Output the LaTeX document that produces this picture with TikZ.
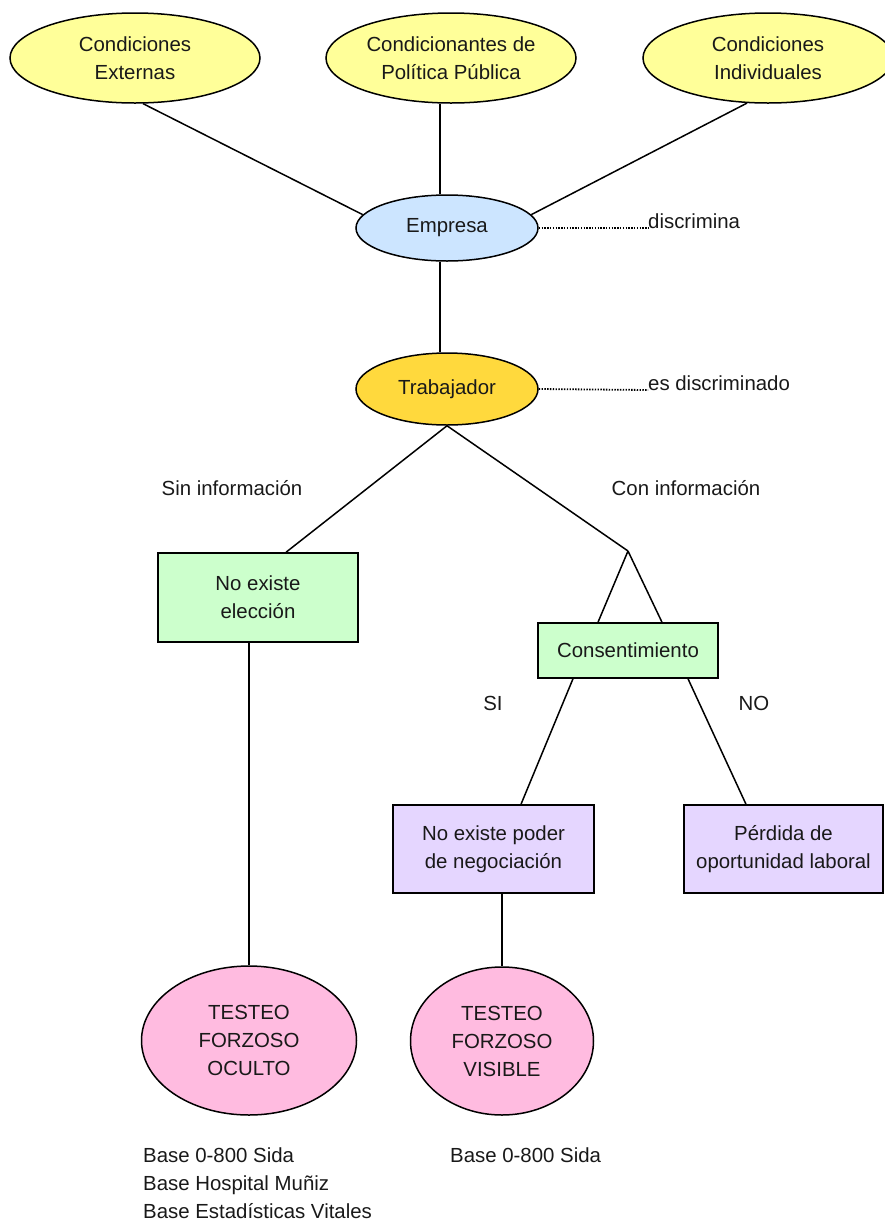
\documentclass[tikz,border=0pt]{standalone}
\usepackage{fontspec}
\setmainfont{Liberation Sans}
\usetikzlibrary{shapes.geometric}
\definecolor{ylw}{RGB}{255,255,153}
\definecolor{bluefill}{RGB}{204,229,255}
\definecolor{goldfill}{RGB}{255,217,61}
\definecolor{greenfill}{RGB}{204,255,204}
\definecolor{purplefill}{RGB}{229,214,255}
\definecolor{pinkfill}{RGB}{255,187,224}
\begin{document}
\begin{tikzpicture}[x=1pt,y=-1pt,
  every node/.style={font=\fontsize{20.4}{28}\selectfont, inner sep=0pt, text=black!90},
  ell/.style={ellipse, draw, line width=1.5pt, align=center},
  topell/.style={ell, fill=ylw, minimum width=250pt, minimum height=90pt},
  boxnode/.style={rectangle, draw, line width=1.5pt, align=center},
  conn/.style={line width=1.5pt},
  dotline/.style={line width=1.8pt, dash pattern=on 1.4pt off 1.4pt},
  lbl/.style={}
]
\useasboundingbox (0,0) rectangle (885,1224);

% top ellipses
\node[topell] (L) at (135,58) {Condiciones\\Externas};
\node[topell] (M) at (451,58) {Condicionantes de\\Política Pública};
\node[topell] (R) at (768,58) {Condiciones\\Individuales};

% middle ellipses
\node[ell, fill=bluefill, minimum width=182pt, minimum height=66pt] (E) at (447,228) {Empresa};
\node[ell, fill=goldfill, minimum width=182pt, minimum height=72pt] (T) at (447,389) {Trabajador};

\node[lbl, anchor=base west] (d1) at (648,228) {discrimina};
\node[lbl, anchor=base west] (d2) at (648,390) {es discriminado};

% branch labels
\node[lbl] (sin) at (232,488) {Sin información};
\node[lbl] (con) at (686,488) {Con información};
\node[lbl] (si) at (493,703) {SI};
\node[lbl] (no) at (754,703) {NO};

% boxes
\node[boxnode, fill=greenfill, minimum width=200pt, minimum height=89pt] (NE) at (258,597.5) {No existe\\elección};
\coordinate (J) at (628,551);
\node[boxnode, fill=greenfill, minimum width=180pt, minimum height=55pt] (C) at (628,650.5) {Consentimiento};
\node[boxnode, fill=purplefill, minimum width=201pt, minimum height=88pt] (NP) at (493.5,849) {No existe poder\\de negociación};
\node[boxnode, fill=purplefill, minimum width=199pt, minimum height=88pt] (PO) at (783.5,849) {Pérdida de\\oportunidad laboral};

% bottom ellipses
\node[ell, fill=pinkfill, minimum width=215pt, minimum height=149pt] (OC) at (249,1040.5) {TESTEO\\FORZOSO\\OCULTO};
\node[ell, fill=pinkfill, minimum width=183pt, minimum height=148pt] (VI) at (502,1041) {TESTEO\\FORZOSO\\VISIBLE};

% sources
\node[lbl, anchor=base west] (b1) at (143,1162) {Base 0-800 Sida};
\node[lbl, anchor=base west] (b2) at (143,1190) {Base Hospital Muñiz};
\node[lbl, anchor=base west] (b3) at (143,1218) {Base Estadísticas Vitales};
\node[lbl, anchor=base west] (b4) at (450,1162) {Base 0-800 Sida};

% connectors
\draw[conn] (L.-80) -- (E.171);
\draw[conn] ([xshift=-11]M.south) -- ([xshift=-7]E.north);
\draw[conn] (R.-115) -- (E.9);
\draw[conn] ([xshift=-7]E.south) -- ([xshift=-7]T.north);
\draw[dotline] (E.east) -- (d1.base west);
\draw[dotline] (T.east) -- (d2.base west);
\draw[conn] (T.south) -- ([xshift=28]NE.north);
\draw[conn] (T.south) -- (J);
\draw[conn] (J) -- ([xshift=-30]C.north);
\draw[conn] (J) -- ([xshift=34]C.north);
\draw[conn] ([xshift=-55]C.south) -- ([xshift=27.5]NP.north);
\draw[conn] ([xshift=60]C.south) -- ([xshift=-37.5]PO.north);
\draw[conn] ([xshift=-9]NE.south) -- (OC.north);
\draw[conn] ([xshift=8.5]NP.south) -- (VI.north);
\end{tikzpicture}
\end{document}
